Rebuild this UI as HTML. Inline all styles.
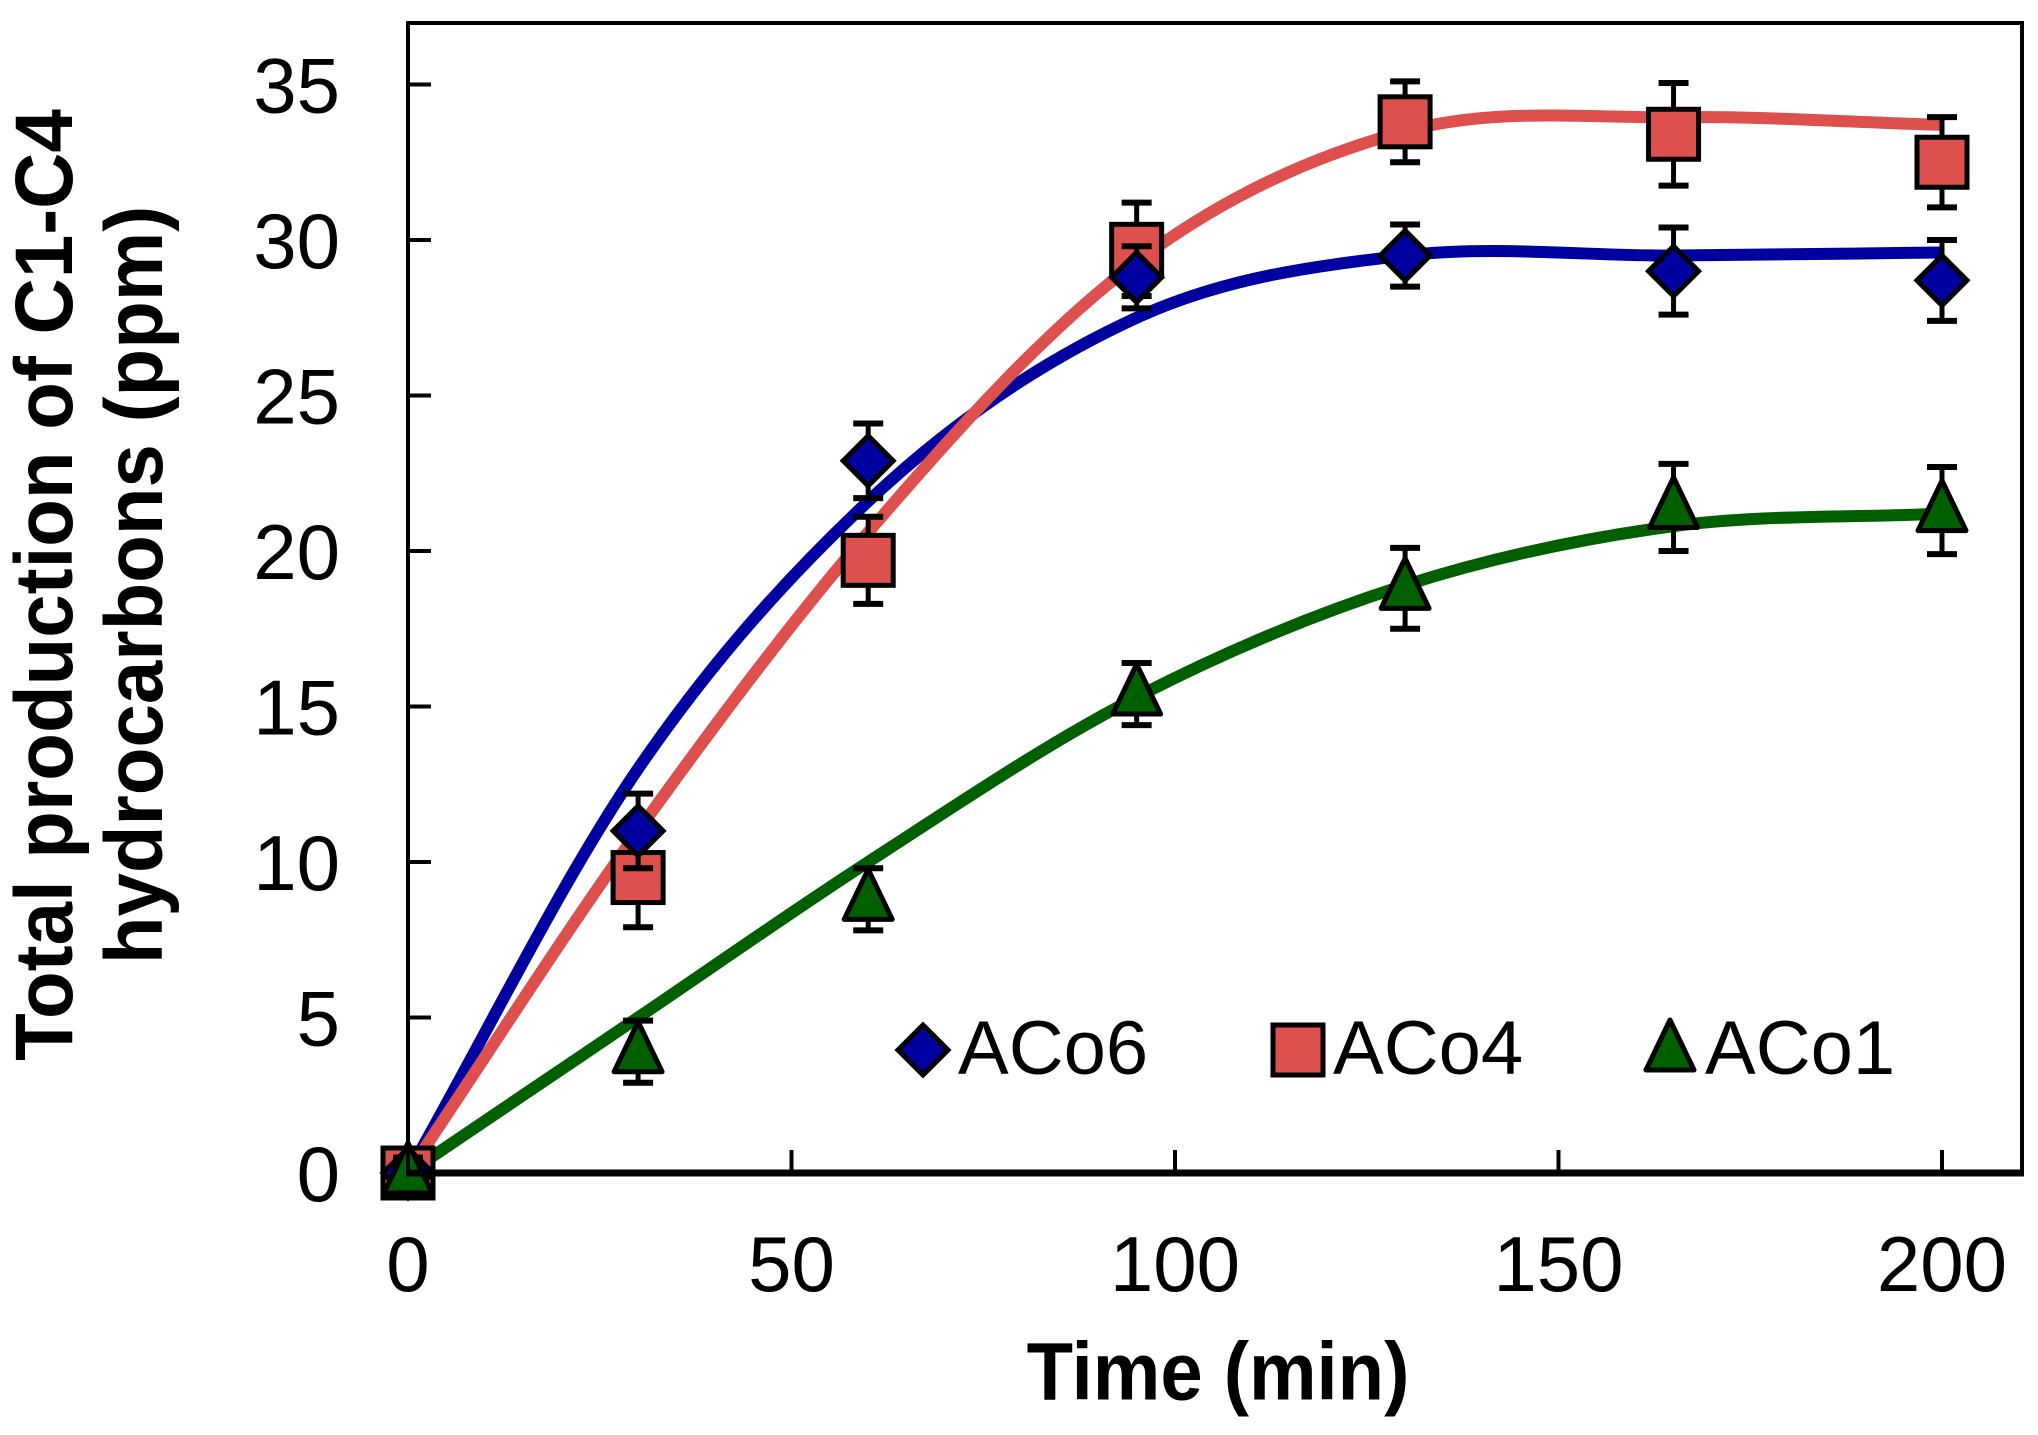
<!DOCTYPE html>
<html><head><meta charset="utf-8"><style>
html,body{margin:0;padding:0;background:#fff;}
svg{display:block;font-family:"Liberation Sans",Arial,sans-serif;}
</style></head><body>
<svg id="chart" width="2038" height="1435" viewBox="0 0 2038 1435" xmlns="http://www.w3.org/2000/svg">
<rect x="0" y="0" width="2038" height="1435" fill="#fff"/>
<g id="lines"></g>
<g id="marks"></g>
<g id="axes"></g>
<text x="1218" y="1400" font-size="76" font-weight="bold" text-anchor="middle" transform="translate(1218 0) scale(1.0 1.08) translate(-1218 -104)">Time (min)</text>
<text transform="translate(72 585) rotate(-90) scale(1 1.05)" font-size="78" font-weight="bold" text-anchor="middle">Total production of C1-C4</text>
<text transform="translate(162 585) rotate(-90) scale(1 1.05)" font-size="78" font-weight="bold" text-anchor="middle">hydrocarbons (ppm)</text>
<g id="legend"></g>
</svg>
<script>
const times = [0, 30, 60, 95, 130, 165, 200];
const aco6 = [0, 11.0, 22.9, 28.8, 29.5, 29.0, 28.7];
const aco6Err = [0.5, 1.2, 1.2, 1.0, 1.0, 1.4, 1.3];
const aco4 = [0, 9.5, 19.7, 29.7, 33.8, 33.4, 32.5];
const aco4Err = [0.5, 1.6, 1.4, 1.5, 1.3, 1.65, 1.45];
const aco1 = [0, 3.9, 8.8, 15.4, 18.8, 21.4, 21.3];
const aco1Err = [0.3, 1.0, 1.0, 1.0, 1.3, 1.4, 1.4];
const fitTimes = [0, 30, 60, 95, 130, 165, 200];
const aco6Fit = [0, 13.0, 21.6, 27.5, 29.5, 29.5, 29.6];
const aco4Fit = [0, 11.0, 20.6, 29.3, 33.5, 33.95, 33.7];
const aco1Fit = [0, 5.0, 10.0, 15.3, 18.9, 20.8, 21.2];
const xTicks = [0, 50, 100, 150, 200];
const yTicks = [0, 5, 10, 15, 20, 25, 30, 35];

const NS = "http://www.w3.org/2000/svg";
const X0 = 408, XS = 7.67, Y0 = 1173, YS = 31.1;
function xp(v){ return X0 + v * XS; }
function yp(v){ return Y0 - v * YS; }
function mk(tag, attrs, parent){ const e = document.createElementNS(NS, tag); for (const k in attrs) e.setAttribute(k, attrs[k]); parent.appendChild(e); return e; }

const axes = document.getElementById('axes');
const frame = mk('rect', {x: 408, y: 23, width: 1614, height: 1150, fill: 'none', stroke: '#000', 'stroke-width': 4}, axes);


const xl = mk('line', {x1: 406, y1: 1173, x2: 2024, y2: 1173, stroke: '#000', 'stroke-width': 7}, axes);


xTicks.forEach(t => {
  const x = xp(t);
  if (t > 0) {
    const tk = mk('line', {x1: x, y1: 1173, x2: x, y2: 1150, stroke: '#000', 'stroke-width': 4}, axes);
    
    
  }
  const lb = mk('text', {x: x, y: 1291, 'font-size': 78, 'text-anchor': 'middle'}, axes);
  lb.textContent = t;
  
  
});
yTicks.forEach(t => {
  const y = yp(t);
  if (t > 0) {
    const tk = mk('line', {x1: 408, y1: y, x2: 431, y2: y, stroke: '#000', 'stroke-width': 4}, axes);
    
    
  }
  const lb = mk('text', {x: 340, y: y + 28, 'font-size': 78, 'text-anchor': 'end'}, axes);
  lb.textContent = t;
  
  
});

function smoothPath(xs, ys){
  const p = xs.map((t, i) => [xp(t), yp(ys[i])]);
  const n = p.length, m = [];
  const d0 = [];
  for (let i = 0; i < n - 1; i++) d0.push((p[i+1][1] - p[i][1]) / (p[i+1][0] - p[i][0]));
  for (let i = 0; i < n; i++) {
    if (i === 0) m.push(d0[0]);
    else if (i === n - 1) m.push(d0[n-2]);
    else {
      const h0 = p[i][0] - p[i-1][0], h1 = p[i+1][0] - p[i][0];
      m.push((d0[i-1] * h1 + d0[i] * h0) / (h0 + h1));
    }
  }
  let d = 'M' + p[0][0] + ' ' + p[0][1];
  for (let i = 0; i < n - 1; i++) {
    const h = p[i+1][0] - p[i][0];
    d += ' C' + (p[i][0] + h/3) + ' ' + (p[i][1] + m[i]*h/3) + ' ' + (p[i+1][0] - h/3) + ' ' + (p[i+1][1] - m[i+1]*h/3) + ' ' + p[i+1][0] + ' ' + p[i+1][1];
  }
  return d;
}
const lines = document.getElementById('lines');
const l6 = mk('path', {d: smoothPath(fitTimes, aco6Fit), fill: 'none', stroke: '#0000a0', 'stroke-width': 12}, lines);


const l4 = mk('path', {d: smoothPath(fitTimes, aco4Fit), fill: 'none', stroke: '#de504e', 'stroke-width': 12}, lines);


const l1 = mk('path', {d: smoothPath(fitTimes, aco1Fit), fill: 'none', stroke: '#006000', 'stroke-width': 12}, lines);



function marker(kind, cx, cy, parent){
  let e;
  if (kind === 'diamond') e = mk('polygon', {points: `${cx},${cy-25} ${cx+25},${cy} ${cx},${cy+25} ${cx-25},${cy}`, fill: '#0000a0', stroke: '#000', 'stroke-width': 5, 'stroke-linejoin': 'miter'}, parent);
  else if (kind === 'square') e = mk('rect', {x: cx-25, y: cy-25, width: 50, height: 50, fill: '#de504e', stroke: '#000', 'stroke-width': 5}, parent);
  else e = mk('polygon', {points: `${cx},${cy-30} ${cx+24},${cy+20} ${cx-24},${cy+20}`, fill: '#006000', stroke: '#000', 'stroke-width': 5, 'stroke-linejoin': 'round'}, parent);
  return e;
}
const marks = document.getElementById('marks');
function series(vals, errs, kind, name){
  vals.forEach((v, i) => {
    const x = xp(times[i]), y = yp(v), e = errs[i];
    const g = mk('g', {}, marks);
    
    
    mk('line', {x1: x, y1: yp(v + e), x2: x, y2: yp(v - e), stroke: '#000', 'stroke-width': 5}, g);
    mk('line', {x1: x - 15, y1: yp(v + e), x2: x + 15, y2: yp(v + e), stroke: '#000', 'stroke-width': 6}, g);
    mk('line', {x1: x - 15, y1: yp(v - e), x2: x + 15, y2: yp(v - e), stroke: '#000', 'stroke-width': 6}, g);
    marker(kind, x, y, g);
  });
}
series(aco4, aco4Err, 'square', 'aco4');
series(aco6, aco6Err, 'diamond', 'aco6');
series(aco1, aco1Err, 'triangle', 'aco1');

const legend = document.getElementById('legend');
const entries = [['diamond', 923, 'ACo6'], ['square', 1298, 'ACo4'], ['triangle', 1670, 'ACo1']];
entries.forEach(en => {
  const g = mk('g', {}, legend);
  
  
  marker(en[0], en[1], 1050, g);
  const t = mk('text', {x: en[1] + 35, y: 1074, 'font-size': 76}, g);
  t.textContent = en[2];
});
</script>
</body></html>
